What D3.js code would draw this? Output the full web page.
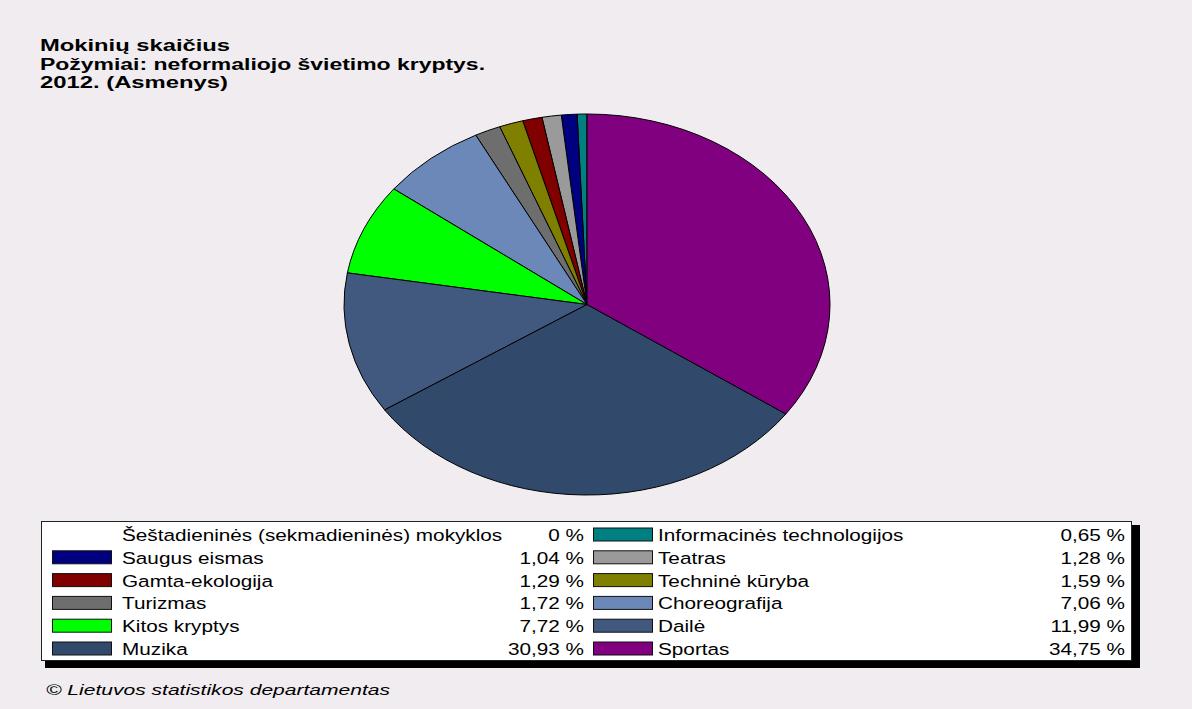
<!DOCTYPE html>
<html>
<head>
<meta charset="utf-8">
<script src="https://cdn.jsdelivr.net/npm/d3@7"></script>
<style>
  html, body { margin: 0; padding: 0; background: #f0ecf0; }
  svg { display: block; }
</style>
</head>
<body>
<svg id="chart" width="1192" height="709"></svg>
<script>
// ---- data ----
const titleLines = [
  "Mokinių skaičius",
  "Požymiai: neformaliojo švietimo kryptys.",
  "2012. (Asmenys)"
];
const categories = [
  "Šeštadieninės (sekmadieninės) mokyklos",
  "Informacinės technologijos",
  "Saugus eismas",
  "Teatras",
  "Gamta-ekologija",
  "Techninė kūryba",
  "Turizmas",
  "Choreografija",
  "Kitos kryptys",
  "Dailė",
  "Muzika",
  "Sportas"
];
const values = [0, 0.65, 1.04, 1.28, 1.29, 1.59, 1.72, 7.06, 7.72, 11.99, 30.93, 34.75];
const colors = [
  "none", "#008080", "#000080", "#9a9a9a", "#800000", "#808000",
  "#6e6e6e", "#6b88b8", "#00ff00", "#42597f", "#314a6c", "#800080"
];
const footerText = "© Lietuvos statistikos departamentas";

// ---- layout ----
const svg = d3.select("#chart");
const W = 1192, H = 709;
svg.append("rect").attr("width", W).attr("height", H).attr("fill", "#f0ecf0");

// title
const titleWidths = [190, 445, 188];
svg.append("g").selectAll("text").data(titleLines).join("text")
  .attr("x", 40)
  .attr("y", (d, i) => 51 + i * 18.5)
  .attr("font-family", "Liberation Sans, Arial, sans-serif")
  .attr("font-weight", "bold")
  .attr("font-size", 16)
  .attr("fill", "#000")
  .attr("textLength", (d, i) => titleWidths[i])
  .attr("lengthAdjust", "spacingAndGlyphs")
  .text(d => d);

// pie (ellipse)
const cx = 587, cy = 304.5, rx = 243, ry = 190.5;
const data = categories.map((c, i) => ({ name: c, value: values[i], color: colors[i] }));
const pie = d3.pie().value(d => d.value).sort((a, b) => b.value - a.value);
const arc = d3.arc().innerRadius(0).outerRadius(rx);
const pg = svg.append("g").attr("transform", `translate(${cx},${cy}) scale(1,${ry / rx})`);
pg.selectAll("path").data(pie(data).filter(d => d.data.value > 0)).join("path")
  .attr("d", arc)
  .attr("fill", d => d.data.color)
  .attr("stroke", "#000")
  .attr("stroke-width", 1)
  .attr("vector-effect", "non-scaling-stroke");

// legend
const lx = 41, ly = 521, lw = 1090, lh = 139;
svg.append("rect").attr("x", lx + 4).attr("y", ly + 4).attr("width", lw + 5).attr("height", lh + 4).attr("fill", "#000");
svg.append("rect").attr("x", lx + 0.5).attr("y", ly + 0.5).attr("width", lw).attr("height", lh)
  .attr("fill", "#fff").attr("stroke", "#222").attr("stroke-width", 1);

const colX = [{ sw: 52, tx: 122, vx: 584 }, { sw: 593, tx: 658, vx: 1125 }];
const rowY0 = 534.5, rowStep = 22.8, sx = 1.22;
const fmt = v => (v === 0 ? "0" : v.toFixed(2).replace(".", ",")) + " %";
const items = svg.append("g").selectAll("g").data(data).join("g")
  .attr("transform", (d, i) => `translate(0,${rowY0 + Math.floor(i / 2) * rowStep})`);
items.filter(d => d.color !== "none").append("rect")
  .attr("x", d => colX[data.indexOf(d) % 2].sw + 0.5)
  .attr("y", -6.5)
  .attr("width", 59)
  .attr("height", 13)
  .attr("fill", d => d.color)
  .attr("stroke", "#111")
  .attr("stroke-width", 1);
items.append("text")
  .attr("transform", d => `translate(${colX[data.indexOf(d) % 2].tx},6.5) scale(${sx},1)`)
  .attr("font-family", "Liberation Sans, Arial, sans-serif")
  .attr("font-size", 17)
  .attr("fill", "#000")
  .text(d => d.name);
items.append("text")
  .attr("transform", d => `translate(${colX[data.indexOf(d) % 2].vx},6.5) scale(${sx},1)`)
  .attr("text-anchor", "end")
  .attr("font-family", "Liberation Sans, Arial, sans-serif")
  .attr("font-size", 17)
  .attr("fill", "#000")
  .text(d => fmt(d.value));

// footer
svg.append("text")
  .attr("x", 46).attr("y", 695)
  .attr("font-family", "Liberation Sans, Arial, sans-serif")
  .attr("font-style", "italic")
  .attr("font-size", 14)
  .attr("fill", "#000")
  .attr("textLength", 344)
  .attr("lengthAdjust", "spacingAndGlyphs")
  .text(footerText);
</script>
</body>
</html>
